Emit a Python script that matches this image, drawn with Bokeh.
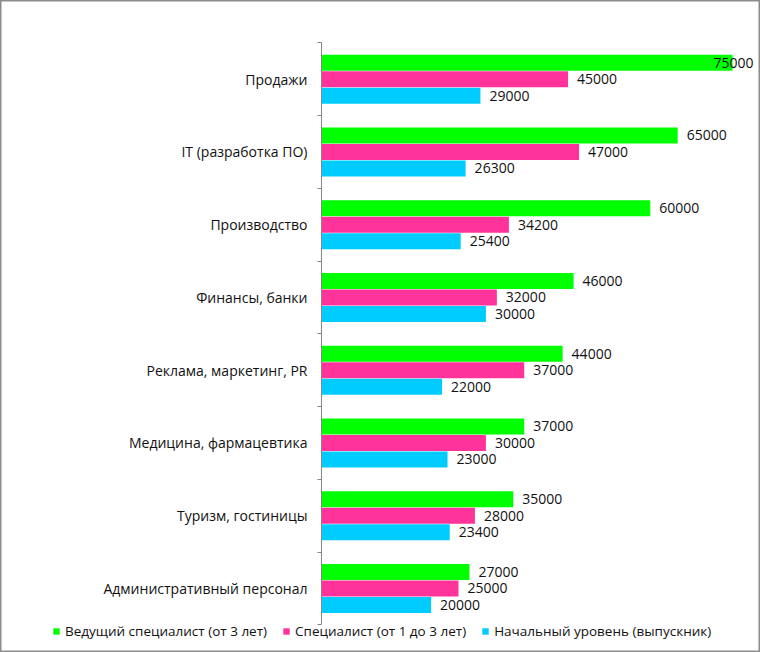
from bokeh.plotting import figure
from bokeh.models import (ColumnDataSource, Range1d, LinearAxis, FixedTicker,
                          Legend, LegendItem)
from bokeh.core.properties import value
from bokeh.embed import file_html
from bokeh.resources import INLINE

categories = ["Продажи", "IT (разработка ПО)", "Производство", "Финансы, банки",
              "Реклама, маркетинг, PR", "Медицина, фармацевтика",
              "Туризм, гостиницы", "Административный персонал"]
series_names = ["Ведущий специалист (от 3 лет)", "Специалист (от 1 до 3 лет)",
                "Начальный уровень (выпускник)"]
lead = [75000, 65000, 60000, 46000, 44000, 37000, 35000, 27000]
mid = [45000, 47000, 34200, 32000, 37000, 30000, 28000, 25000]
junior = [29000, 26300, 25400, 30000, 22000, 23000, 23400, 20000]
colors = ["#00FF00", "#FF3399", "#00CCFF"]

FONT = "Open Sans"
FS = "14px"
TXT = "#111111"
n = len(categories)
centers = [n - i - 0.5 for i in range(n)]

W, H = 760, 652
px_x = 411 / 75000.0       # pixels per unit value
x0_px = 321                # page x of value 0
px_y = 72.75               # pixels per category
ytop_px = 42.3             # page y of the top boundary

p = figure(width=W, height=H, output_backend="svg", toolbar_location=None,
           x_range=Range1d(-x0_px / px_x, (W - x0_px) / px_x),
           y_range=Range1d(-(H - ytop_px - n * px_y) / px_y, n + ytop_px / px_y),
           x_axis_type=None, y_axis_type=None,
           min_border_left=0, min_border_right=0, min_border_top=0,
           min_border_bottom=0)
p.outline_line_color = "#8c8c8c"
p.outline_line_width = 2
p.xgrid.visible = False
p.ygrid.visible = False
p.background_fill_color = "white"
p.border_fill_color = "white"

offsets = [0.227, 0.0, -0.227]
renderers = []
for vals, col, off in zip([lead, mid, junior], colors, offsets):
    ys = [c + off for c in centers]
    xoff = [9 if v < 72000 else -19 for v in vals]
    src = ColumnDataSource(dict(y=ys, x=vals, lab=[str(v) for v in vals], xoff=xoff))
    r = p.hbar(y="y", right="x", left=0, height=0.22, source=src,
               fill_color=col, line_color=None)
    p.text(x="x", y="y", text="lab", x_offset="xoff", source=src,
           text_align="left", text_baseline="middle", text_font=value(FONT),
           text_font_size=FS, text_color=TXT)
    renderers.append(r)

yaxis = LinearAxis(ticker=FixedTicker(ticks=centers, minor_ticks=list(range(n + 1))),
                   fixed_location=0, bounds=(0, n))
yaxis.major_label_overrides = {c: name for c, name in zip(centers, categories)}
yaxis.major_tick_out = 0
yaxis.major_tick_in = 0
yaxis.major_tick_line_color = None
yaxis.minor_tick_out = 4
yaxis.minor_tick_in = 0
yaxis.minor_tick_line_color = "#868686"
yaxis.axis_line_color = "#868686"
yaxis.major_label_standoff = 10
yaxis.major_label_text_font = FONT
yaxis.major_label_text_font_size = FS
yaxis.major_label_text_color = TXT
p.add_layout(yaxis, "left")

legend = Legend(items=[LegendItem(label=nm, renderers=[r]) for nm, r in zip(series_names, renderers)],
                orientation="horizontal", location=(52, 12),
                glyph_width=8, glyph_height=8, label_standoff=5, spacing=15,
                padding=0, margin=0, border_line_color=None,
                background_fill_alpha=0, label_text_font=FONT,
                label_text_font_size="13.5px", label_text_color=TXT,
                label_height=14)
p.add_layout(legend, "center")

open("out.html", "w").write(file_html(p, INLINE))
